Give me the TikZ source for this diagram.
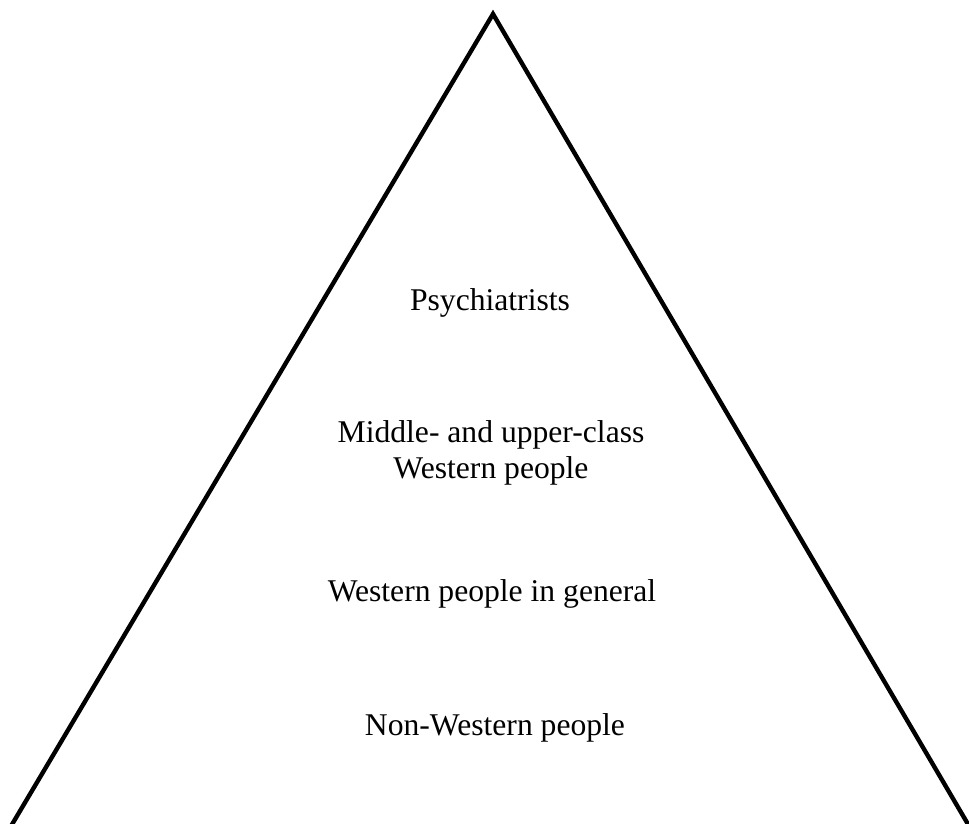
\documentclass[tikz,border=0pt]{standalone}
\usepackage{fontspec}
\setmainfont{Liberation Serif}
\usetikzlibrary{positioning}
\tikzset{
    pyramidedge/.style = {black, line width=2.5pt, line join=miter},
    layerlabel/.style  = {align=center, anchor=base, inner sep=0pt, font=\fontsize{18}{20}\selectfont},
}

\begin{document}
\begin{tikzpicture}[x=0.02cm,y=0.02cm]
        \useasboundingbox (0,0) rectangle (969,823);
        \clip (0,0) rectangle (969,823);
        \coordinate (top) at (493,809);
        \coordinate (leftfoot) at (1,-20);
        \coordinate (rightfoot) at (979,-20);

        \draw[pyramidedge] (leftfoot) -- (top) -- (rightfoot);

        \node[layerlabel](psych) at (490,513){Psychiatrists};
        \node[layerlabel](upper) at (491,345){Middle- and upper-class\\Western people};
        \node[layerlabel](west) at (492,222){Western people in general};
        \node[layerlabel](nonwest) at (495,88){Non-Western people};
    \end{tikzpicture}
\end{document}
